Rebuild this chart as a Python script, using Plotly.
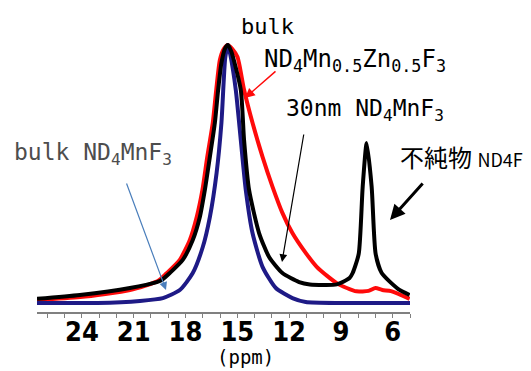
import plotly.graph_objects as go

# ---- data (ppm, normalised intensity) ----
blue_ppm = [26.6, 23.1, 20.64, 19.31, 18.33, 17.58, 17.0, 16.59, 16.2, 15.92, 15.7, 15.55, 15.4, 15.09, 14.8, 14.51,
            14.12, 13.54, 12.77, 11.81, 11.04, 9.0, 5.0]
blue_int = [0.0, 0.0, 0.008, 0.019, 0.05, 0.116, 0.217, 0.333, 0.504, 0.698, 0.95, 1.0, 0.96, 0.826, 0.632, 0.438,
            0.271, 0.14, 0.058, 0.019, 0.004, 0.0, 0.0]

black_ppm = [26.6, 24.12, 21.22, 19.66, 19.37, 18.91, 18.16, 17.58, 17.17, 16.88, 16.59, 16.3, 16.11, 15.92, 15.72,
             15.55, 15.35, 14.8, 14.61, 14.32, 13.74, 13.16, 12.39, 11.42, 10.8, 9.24, 8.5, 8.32, 7.97, 7.74, 7.51,
             7.22, 6.99, 6.64, 5.7, 5.02]
black_int = [0.016, 0.031, 0.058, 0.081, 0.089, 0.116, 0.167, 0.244, 0.333, 0.438, 0.566, 0.698, 0.826, 0.93, 0.985,
             1.0, 0.975, 0.826, 0.632, 0.438, 0.271, 0.178, 0.116, 0.081, 0.072, 0.072, 0.097, 0.116, 0.19, 0.45, 0.62,
             0.45, 0.19, 0.116, 0.055, 0.031]

red_ppm = [26.6, 24.1, 21.22, 19.6, 19.08, 18.33, 17.75, 17.35, 17.02, 16.74, 16.42, 16.22, 16.01, 15.78, 15.55, 15.3,
           14.99, 14.61, 14.12, 13.54, 12.96, 12.39, 11.81, 11.04, 10.4, 9.8, 9.2, 8.66, 8.1, 7.4, 7.0, 6.6, 6.1, 5.02]
red_int = [0.012, 0.023, 0.05, 0.085, 0.116, 0.167, 0.244, 0.333, 0.438, 0.566, 0.698, 0.826, 0.942, 0.985, 1.0, 0.985,
           0.953, 0.826, 0.698, 0.566, 0.45, 0.349, 0.271, 0.194, 0.14, 0.105, 0.075, 0.058, 0.045, 0.047, 0.058, 0.05,
           0.046, 0.016]

tick_vals = [24, 21, 18, 15, 12, 9, 6]
tick_text = ["24", "21", "18", "15", "12", "9", "6"]

OFF = 8                       # browser body margin
W, H = 531 - OFF, 371 - OFF
L, R, T, B = 37 - OFF, 121, 40 - OFF, 59
PW, PH = W - L - R, H - T - B


def px(x):  # page pixel -> paper
    return (x - OFF - L) / PW


def py(y):
    return (H - B - (y - OFF)) / PH


fig = go.Figure()
for xs, ys, col in [(red_ppm, red_int, "#ff0a0a"), (blue_ppm, blue_int, "#1e1a86"), (black_ppm, black_int, "#000000")]:
    fig.add_trace(go.Scatter(x=xs, y=ys, mode="lines", line=dict(color=col, width=4, shape="spline", smoothing=0.6),
                             cliponaxis=False, showlegend=False, hoverinfo="skip"))

mono = "DejaVu Sans Mono, Liberation Mono, monospace"
ann = []
ann.append(dict(text="bulk", x=px(267), y=py(27), xanchor="center", yanchor="middle",
                font=dict(family=mono, size=22, color="black")))
ann.append(dict(text="ND<sub>4</sub>Mn<sub>0.5</sub>Zn<sub>0.5</sub>F<sub>3</sub>", x=px(262), y=py(61),
                xanchor="left", yanchor="middle", font=dict(family=mono, size=24, color="black")))
ann.append(dict(text="30nm ND<sub>4</sub>MnF<sub>3</sub>", x=px(284), y=py(110),
                xanchor="left", yanchor="middle", font=dict(family=mono, size=23, color="black")))
ann.append(dict(text="bulk ND<sub>4</sub>MnF<sub>3</sub>", x=px(12), y=py(154),
                xanchor="left", yanchor="middle", font=dict(family=mono, size=23, color="#4d4d4d")))
ann.append(dict(text="不純物 <span style='font-size:18px'>ND4F</span>", x=px(398), y=py(156),
                xanchor="left", yanchor="middle", font=dict(family="Noto Sans CJK JP", size=24, color="black")))
ann.append(dict(text="(ppm)", x=px(245), y=py(357), xanchor="center", yanchor="middle",
                font=dict(family=mono, size=19, color="black")))

# arrows: head (page px), tail (page px)
for hx, hy, tx, ty, col, w in [(245, 98, 277, 70, "#ff0a0a", 1.5),
                               (282, 262, 304, 133, "#000000", 1.2),
                               (166, 290, 126, 182, "#4a7ebb", 1.2),
                               (390, 220, 424, 182, "#000000", 3)]:
    ann.append(dict(text="", x=px(hx), y=py(hy), ax=tx - hx, ay=ty - hy, showarrow=True,
                    arrowhead=2, arrowsize=1.3 if w < 2 else 1.0, arrowwidth=w, arrowcolor=col, standoff=0))

for a in ann:
    a.setdefault("showarrow", False)
    a["xref"] = "paper"
    a["yref"] = "paper"

fig.update_layout(
    width=W, height=H, margin=dict(l=L, r=R, t=T, b=B),
    paper_bgcolor="white", plot_bgcolor="white",
    annotations=ann,
    xaxis=dict(range=[26.6, 5.0], tickvals=tick_vals, ticktext=["<b>%s</b>" % t for t in tick_text],
               ticks="outside", ticklen=4, tickcolor="#808080", showline=True, linecolor="#808080", linewidth=1.5,
               showgrid=False, zeroline=False, ticklabelstandoff=-9,
               minor=dict(dtick=1, tick0=0, ticks="outside", ticklen=4, tickcolor="#808080", showgrid=False),
               tickfont=dict(family="DejaVu Sans Condensed, Arial Narrow, sans-serif", size=27, color="black")),
    yaxis=dict(range=[-0.035, 1.019], visible=False, showgrid=False, zeroline=False),
)

fig.write_html("out.html")
